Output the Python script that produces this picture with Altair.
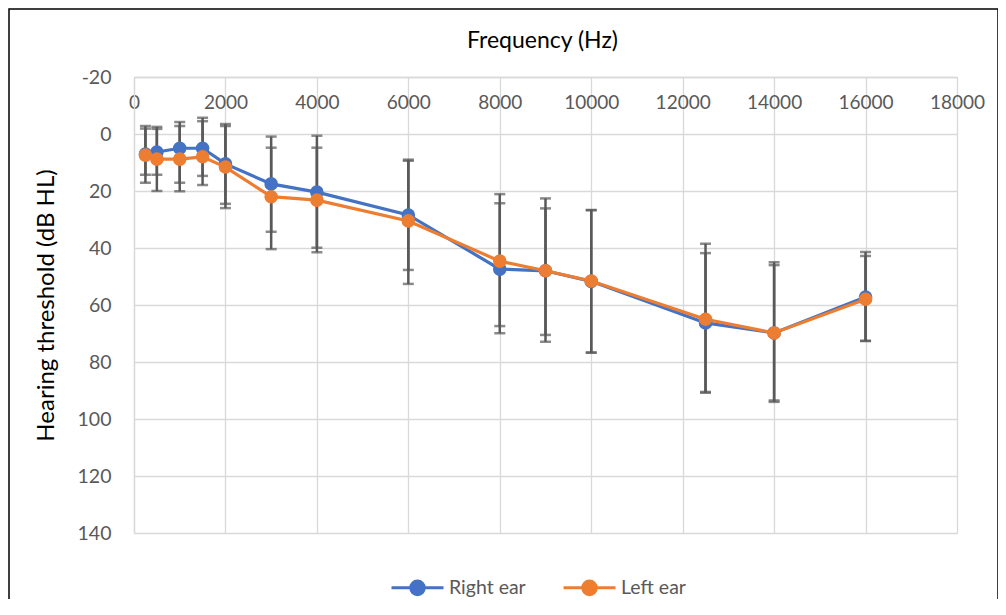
import altair as alt
import pandas as pd

freq = [250, 500, 1000, 1500, 2000, 3000, 4000, 6000, 8000, 9000, 10000, 12500, 14000, 16000]
right_mean = [7.0, 6.3, 5.0, 5.0, 10.5, 17.5, 20.4, 28.4, 47.4, 48.0, 51.7, 66.3, 69.8, 57.2]
right_low = [-2.8, -2.5, -4.2, -5.7, -3.5, 0.9, 0.6, 9.4, 24.3, 22.6, 26.7, 41.8, 45.0, 41.4]
right_high = [17.1, 14.3, 17.1, 14.7, 24.5, 34.3, 39.9, 47.7, 69.9, 72.9, 76.7, 90.8, 94.0, 72.6]
left_mean = [7.4, 8.8, 8.8, 8.0, 11.6, 22.0, 23.2, 30.5, 44.6, 48.0, 51.6, 65.0, 69.8, 58.0]
left_low = [-1.9, -1.8, -2.8, -4.5, -2.8, 4.8, 4.8, 9.0, 21.1, 26.1, 26.7, 38.5, 46.0, 42.8]
left_high = [14.3, 20.0, 20.1, 17.9, 26.0, 40.4, 41.5, 52.6, 67.4, 70.5, 76.7, 90.5, 93.5, 72.6]
series = ["Right ear", "Left ear"]
colors = ["#4472C4", "#ED7D31"]
x_ticks = [0, 2000, 4000, 6000, 8000, 10000, 12000, 14000, 16000, 18000]
y_ticks = [-20, 0, 20, 40, 60, 80, 100, 120, 140]

rows = []
for ear, means, lows, highs in [
    (series[0], right_mean, right_low, right_high),
    (series[1], left_mean, left_low, left_high),
]:
    for f, m, lo, hi in zip(freq, means, lows, highs):
        rows.append({"ear": ear, "freq": f, "mean": m, "low": lo, "high": hi})
df = pd.DataFrame(rows)

FONT = "Lato"
GRID = "#d9d9d9"
LABEL = "#595959"
W, H = 823, 456

PATH = "M-1,0H1M0.26,0A0.26,0.26,0,1,1,-0.26,0A0.26,0.26,0,1,1,0.26,0Z"

legend = alt.Legend(
    title=None, orient="none", direction="horizontal",
    legendX=256, legendY=483, padding=0,
    symbolType=PATH, symbolSize=2704, symbolStrokeWidth=3, symbolOpacity=1,
    labelFont=FONT, labelFontSize=19.5, labelColor=LABEL,
    labelOffset=4, columnPadding=31,
)

x_axis = alt.Axis(
    orient="top", values=x_ticks, title="Frequency (Hz)", ticks=False, format="d",
    labelPadding=-25, labelBaseline="middle", labelFlush=False, labelOverlap=False,
    labelFont=FONT, labelFontSize=19, labelColor=LABEL,
    titleFont=FONT, titleFontSize=23, titleFontWeight="normal", titleColor="black",
    titleX=408, titleY=-37, titleBaseline="middle",
    gridColor=GRID, gridWidth=1.3, domainColor=GRID, domainWidth=1.3,
)
y_axis = alt.Axis(
    values=y_ticks, title="Hearing threshold (dB HL)", ticks=False,
    labelPadding=23, labelExpr="datum.value + ''",
    labelFont=FONT, labelFontSize=19.5, labelColor=LABEL, labelOverlap=False,
    titleFont=FONT, titleFontSize=24, titleFontWeight="normal", titleColor="black",
    titleX=-88, titleY=H / 2, titleBaseline="middle", titleAngle=-90,
    gridColor=GRID, gridWidth=1.3, domainColor=GRID, domainWidth=1.3,
)

x_enc = alt.X("freq:Q", scale=alt.Scale(domain=[0, 18000], nice=False), axis=x_axis)
y_scale = alt.Scale(domain=[-20, 140], reverse=True, nice=False)

base = alt.Chart(df)

border = alt.Chart(pd.DataFrame({"a": [0]})).mark_rect(
    fillOpacity=0, stroke="black", strokeWidth=1.5
).encode(
    x=alt.value(-125), x2=alt.value(864), y=alt.value(-68), y2=alt.value(620)
)

bars = base.mark_rule(color="#595959", strokeWidth=2.5).encode(
    x=x_enc,
    y=alt.Y("low:Q", scale=y_scale, axis=y_axis),
    y2="high:Q",
)
cap_low = base.mark_tick(color="#595959", orient="horizontal", size=11, thickness=2.5).encode(
    x=x_enc, y=alt.Y("low:Q", scale=y_scale, axis=y_axis)
)
cap_high = base.mark_tick(color="#595959", orient="horizontal", size=11, thickness=2.5).encode(
    x=x_enc, y=alt.Y("high:Q", scale=y_scale, axis=y_axis)
)

layers = [border, bars, cap_low, cap_high]
for ear in series:
    sub = base.transform_filter(alt.datum.ear == ear)
    line = sub.mark_line(strokeWidth=3.2).encode(
        x=x_enc,
        y=alt.Y("mean:Q", scale=y_scale, axis=y_axis),
        stroke=alt.Stroke("ear:N", scale=alt.Scale(domain=series, range=colors), legend=legend),
    )
    pts = sub.mark_circle(size=185, opacity=1).encode(
        x=x_enc,
        y=alt.Y("mean:Q", scale=y_scale, axis=y_axis),
        fill=alt.Fill("ear:N", scale=alt.Scale(domain=series, range=colors), legend=legend),
    )
    layers += [line, pts]

chart = alt.layer(*layers).properties(
    width=W, height=H,
    autosize=alt.AutoSizeParams(type="none"),
    padding={"left": 126, "top": 69, "right": 41, "bottom": 66},
).configure_view(stroke=GRID, strokeWidth=1.3).configure(background="white")

chart.save("out.html", embed_options={"renderer": "svg", "actions": False})
